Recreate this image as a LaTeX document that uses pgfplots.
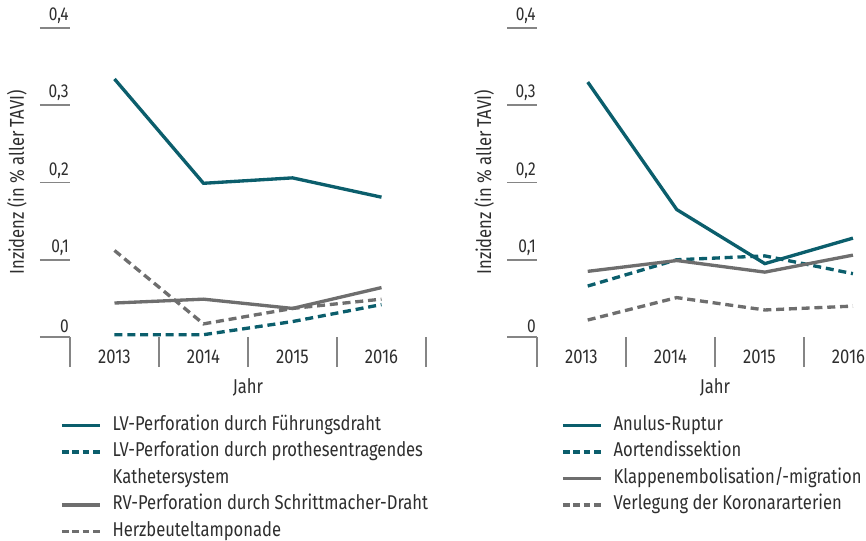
\documentclass[border=0pt]{standalone}
\usepackage{fontspec}
\setmainfont{Fira Sans}[FakeStretch=0.83]
\usepackage{pgfplots}
\pgfplotsset{compat=1.18}
\definecolor{tealc}{HTML}{0B5E6C}
\definecolor{grayc}{HTML}{6E6E6E}
\definecolor{tickc}{HTML}{858585}
\definecolor{txt}{HTML}{2E2E2E}
\newcommand{\bigf}{\fontsize{15pt}{18pt}\selectfont}
\newcommand{\smallf}{\fontsize{14pt}{16pt}\selectfont}
\pgfplotsset{
 panel/.style={
  scale only axis, width=267pt, height=231.75pt,
  xmin=-0.5, xmax=3.5, ymin=0, ymax=0.4,
  axis line style={draw=none},
  tick align=outside,
  tick pos=left,
  major tick length=22.5pt,
  tick style={draw=tickc, line width=1.4pt},
  ytick={0,0.1,0.2,0.3,0.4},
  yticklabels={0,{0,1},{0,2},{0,3},{0,4}},
  yticklabel style={font=\smallf, text=txt, anchor=south east, inner sep=0pt, xshift=21.75pt, yshift=3pt},
  xtick={-0.5,0.5,1.5,2.5,3.5},
  xticklabels={},
  extra x ticks={0,1,2,3},
  extra x tick labels={2013,2014,2015,2016},
  extra x tick style={major tick length=0pt, tick style={draw=none},
     tick label style={font=\bigf, text=txt, anchor=base, inner sep=0pt, yshift=-19.5pt}},
  xlabel={Jahr},
  xlabel style={font=\bigf, text=txt, at={(axis description cs:0.5,-0.1812)}, anchor=base, inner sep=0pt},
  ylabel={Inzidenz (in \% aller TAVI)},
  ylabel style={font=\bigf, text=txt, at={(axis description cs:-0.1489,0.5)}, anchor=center, rotate=0, inner sep=0pt},
  legend cell align=left,
  legend image code/.code={\draw[##1] (0pt,0pt) -- (28.5pt,0pt);},
  legend style={draw=none, fill=none, font=\bigf, text=txt, inner sep=0pt,
     row sep=4.9pt, column sep=8.25pt, anchor=north west,
     nodes={inner sep=0pt, text height=11.25pt, text depth=3.75pt}},
  every axis plot/.append style={line width=2.5pt},
 },
 solidT/.style={tealc, solid, line width=2.5pt},
 dashT/.style={tealc, dash pattern=on 6pt off 3.6pt, line width=2.5pt},
 solidG/.style={grayc, solid, line width=2.5pt},
 dashG/.style={grayc, dash pattern=on 6pt off 3.6pt, line width=2.5pt},
 legdashT/.style={tealc, dash pattern=on 5pt off 2.8pt, line width=2.5pt},
 legdashG/.style={grayc, dash pattern=on 5pt off 2.8pt, line width=2.5pt},
}
\begin{document}
\begin{tikzpicture}
\begin{axis}[panel, at={(52.5pt,-252.75pt)}, anchor=south west,
  legend style={at={(-0.0281,-0.2525)}}]
\addplot[solidT, forget plot] coordinates {(0,0.334) (1,0.199) (2,0.206) (3,0.181)};
\addplot[dashT, forget plot] coordinates {(0,0.003) (1,0.003) (2,0.020) (3,0.042)};
\addplot[solidG, forget plot] coordinates {(0,0.044) (1,0.049) (2,0.037) (3,0.064)};
\addplot[dashG, forget plot] coordinates {(0,0.112) (1,0.017) (2,0.037) (3,0.049)};
\addlegendimage{solidT}
\addlegendentry{LV-Perforation durch Führungsdraht}
\addlegendimage{legdashT}
\addlegendentry{LV-Perforation durch prothesentragendes}
\addlegendimage{empty legend}
\addlegendentry{Kathetersystem}
\addlegendimage{solidG}
\addlegendentry{RV-Perforation durch Schrittmacher-Draht}
\addlegendimage{legdashG}
\addlegendentry{Herzbeuteltamponade}
\end{axis}
\begin{axis}[panel, at={(402.75pt,-252.75pt)}, anchor=south west,
  legend style={at={(0.0674,-0.2525)}}]
\addplot[solidT, forget plot] coordinates {(0.07,0.330) (1.07,0.165) (2.06,0.095) (3.05,0.128)};
\addplot[dashT, forget plot] coordinates {(0.07,0.066) (1.07,0.100) (2.06,0.105) (3.05,0.082)};
\addplot[solidG, forget plot] coordinates {(0.07,0.085) (1.07,0.099) (2.06,0.084) (3.05,0.106)};
\addplot[dashG, forget plot] coordinates {(0.07,0.022) (1.07,0.051) (2.06,0.035) (3.05,0.040)};
\addlegendimage{solidT}
\addlegendentry{Anulus-Ruptur}
\addlegendimage{legdashT}
\addlegendentry{Aortendissektion}
\addlegendimage{solidG}
\addlegendentry{Klappenembolisation/-migration}
\addlegendimage{legdashG}
\addlegendentry{Verlegung der Koronararterien}
\end{axis}
\pgfresetboundingbox
\path (0pt,0pt) rectangle (649.5pt,-405pt);
\end{tikzpicture}
\end{document}
